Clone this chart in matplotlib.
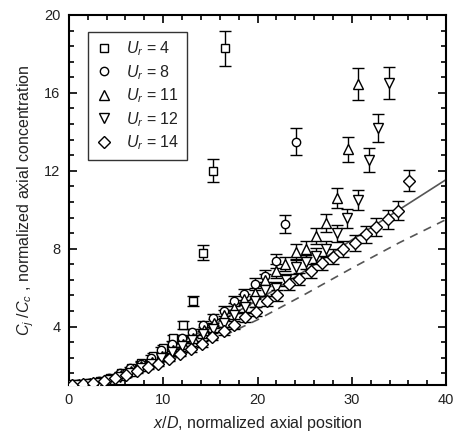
import numpy as np
import matplotlib
matplotlib.use("Agg")
import matplotlib.pyplot as plt
from matplotlib.ticker import MultipleLocator

plt.rcParams['font.family'] = ['Liberation Sans', 'DejaVu Sans']
plt.rcParams['mathtext.fontset'] = 'custom'
plt.rcParams['mathtext.rm'] = 'Liberation Sans'
plt.rcParams['mathtext.it'] = 'Liberation Sans:italic'

###########################
# data
###########################
# Ur = 4 (squares)
x_u4 = [0.0, 1.1, 2.2, 3.3, 4.4, 5.5, 6.6, 7.7, 8.9, 10.0, 11.0, 12.1, 13.2, 14.2, 15.3, 16.55]
y_u4 = [1.0, 1.05, 1.1, 1.2, 1.35, 1.6, 1.85, 2.15, 2.5, 2.9, 3.4, 4.1, 5.3, 7.8, 12.0, 18.3]
e_u4 = [0.05, 0.05, 0.05, 0.06, 0.07, 0.08, 0.09, 0.1, 0.12, 0.14, 0.17, 0.2, 0.26, 0.4, 0.6, 0.9]

# Ur = 8 (circles)
x_u8 = [0.0, 1.0, 2.1, 3.2, 4.3, 5.4, 6.5, 7.6, 8.7, 9.8, 10.9, 12.0, 13.1, 14.2, 15.3, 16.4, 17.5,
        18.6, 19.7, 20.8, 22.0, 22.9, 24.05]
y_u8 = [1.0, 1.05, 1.1, 1.2, 1.35, 1.6, 1.85, 2.1, 2.4, 2.8, 3.1, 3.4, 3.7, 4.08, 4.42, 4.8, 5.3,
        5.67, 6.17, 6.6, 7.37, 9.25, 13.5]
e_u8 = [0.05, 0.05, 0.05, 0.06, 0.07, 0.08, 0.09, 0.1, 0.12, 0.14, 0.15, 0.17, 0.18, 0.2, 0.22, 0.24, 0.26,
        0.28, 0.3, 0.33, 0.37, 0.46, 0.68]

# Ur = 11 (up triangles)
x_u11 = [0.0, 1.1, 2.2, 3.3, 4.4, 5.5, 6.6, 7.7, 8.8, 9.9, 11.0, 12.1, 13.2, 14.3, 15.4, 16.4, 17.5,
         18.6, 19.7, 20.8, 22.0, 22.95, 24.1, 25.1, 26.2, 27.3, 28.4, 29.6, 30.6]
y_u11 = [1.0, 1.03, 1.08, 1.15, 1.3, 1.5, 1.7, 1.95, 2.2, 2.5, 2.8, 3.1, 3.4, 3.8, 4.2, 4.6, 4.94,
         5.4, 5.7, 6.4, 6.85, 7.2, 7.85, 7.97, 8.65, 9.33, 10.6, 13.1, 16.45]
e_u11 = [0.05, 0.05, 0.05, 0.06, 0.07, 0.08, 0.09, 0.1, 0.11, 0.13, 0.14, 0.16, 0.17, 0.19, 0.21, 0.23, 0.25,
         0.27, 0.29, 0.32, 0.34, 0.36, 0.39, 0.4, 0.43, 0.47, 0.53, 0.65, 0.82]

# Ur = 12 (down triangles)
x_u12 = [0.0, 1.0, 2.1, 3.2, 4.3, 5.4, 6.5, 7.6, 8.7, 9.8, 10.9, 12.0, 13.1, 14.2, 15.3, 16.4, 17.5,
         18.7, 19.7, 20.8, 22.0, 23.0, 24.1, 25.1, 26.2, 27.3, 28.4, 29.5, 30.6, 31.8, 32.8, 33.9]
y_u12 = [1.0, 1.02, 1.05, 1.12, 1.25, 1.4, 1.6, 1.85, 2.1, 2.4, 2.7, 3.0, 3.3, 3.6, 3.9, 4.2, 4.6,
         5.0, 5.3, 5.88, 5.97, 6.4, 7.07, 7.33, 7.63, 7.97, 8.8, 9.56, 10.5, 12.55, 14.2, 16.5]
e_u12 = [0.05, 0.05, 0.05, 0.06, 0.06, 0.07, 0.08, 0.09, 0.1, 0.12, 0.13, 0.15, 0.16, 0.18, 0.2, 0.21, 0.23,
         0.25, 0.27, 0.29, 0.3, 0.32, 0.35, 0.37, 0.38, 0.4, 0.44, 0.48, 0.52, 0.62, 0.7, 0.82]

# Ur = 14 (diamonds)
x_u14 = [0.3, 1.45, 2.6, 3.75, 4.9, 6.05, 7.2, 8.35, 9.5, 10.65, 11.8, 12.95, 14.1, 15.2, 16.4, 17.5,
         18.7, 19.8, 21.0, 22.1, 23.3, 24.4, 25.7, 26.8, 28.0, 29.1, 30.3, 31.5, 32.6, 33.8, 34.9, 36.1]
y_u14 = [1.0, 1.05, 1.1, 1.2, 1.35, 1.5, 1.7, 1.9, 2.1, 2.35, 2.6, 2.85, 3.1, 3.48, 3.77, 4.1,
         4.47, 4.76, 5.3, 5.6, 6.17, 6.44, 6.85, 7.25, 7.59, 7.97, 8.28, 8.74, 9.13, 9.5, 9.95, 11.5]
e_u14 = [0.05, 0.05, 0.05, 0.06, 0.07, 0.08, 0.09, 0.1, 0.1, 0.12, 0.13, 0.14, 0.16, 0.17, 0.19, 0.2,
         0.22, 0.24, 0.26, 0.28, 0.31, 0.32, 0.34, 0.36, 0.38, 0.4, 0.41, 0.44, 0.46, 0.48, 0.5, 0.56]

# model curves
x_fit = [0, 2.5, 5, 7.5, 10, 12.5, 15, 20, 25, 30, 35, 40]
y_solid = [1.0, 1.15, 1.5, 2.05, 2.7, 3.35, 4.0, 5.35, 6.85, 8.45, 10.0, 11.55]
y_dash = [1.0, 1.05, 1.25, 1.6, 2.1, 2.65, 3.2, 4.35, 5.65, 7.0, 8.3, 9.5]

series = [
    (x_u4, y_u4, e_u4, 's', 5.5, '4'),
    (x_u8, y_u8, e_u8, 'o', 6.0, '8'),
    (x_u11, y_u11, e_u11, '^', 6.5, '11'),
    (x_u12, y_u12, e_u12, 'v', 6.5, '12'),
    (x_u14, y_u14, e_u14, 'D', 6.0, '14'),
]

fig = plt.figure(figsize=(4.53, 4.40), dpi=100)
ax = fig.add_axes([0.152, 0.125, 0.833, 0.841])

ax.plot(x_fit, y_solid, '-', color='#555555', lw=1.2, zorder=1)
ax.plot(x_fit, y_dash, '--', color='#555555', lw=1.2, dashes=(5, 4), zorder=1)

for xs, ys, es, mk, ms, lab in series:
    ax.errorbar(xs, ys, yerr=es, fmt=mk, ms=ms, mfc='white', mec='black', mew=1.0,
                ecolor='black', elinewidth=1.0, capsize=4, capthick=1.0,
                label=r'$U_r$ = ' + lab, zorder=3)

ax.set_xlim(0, 40)
ax.set_ylim(1, 20)
ax.xaxis.set_major_locator(MultipleLocator(10))
ax.xaxis.set_minor_locator(MultipleLocator(2))
ax.set_yticks([4, 8, 12, 16, 20])
ax.yaxis.set_minor_locator(MultipleLocator(0.8))
ax.tick_params(which='both', direction='in', top=True, right=True, labelsize=10.5,
               width=1.2, labelcolor='#222222')
ax.tick_params(which='major', length=6, pad=6)
ax.tick_params(which='minor', length=3.5)
for sp in ax.spines.values():
    sp.set_linewidth(1.5)

ax.set_xlabel(r'$x/D$, normalized axial position', fontsize=11.5, labelpad=5, color='#222222')
ax.set_ylabel(r'$C_j$ /$C_c$ , normalized axial concentration', fontsize=11.5, labelpad=6,
              color='#222222')

handles, labels = ax.get_legend_handles_labels()
handles = [h[0] for h in handles]
leg = ax.legend(handles, labels, loc='upper left', bbox_to_anchor=(0.05, 0.955),
                fontsize=11.5, frameon=True, fancybox=False, edgecolor='black',
                handletextpad=0.9, borderpad=0.5, labelspacing=0.3, handlelength=1.0,
                borderaxespad=0.0)
leg.get_frame().set_linewidth(1.0)
for t in leg.get_texts():
    t.set_color('#222222')

fig.savefig('out.png', dpi=100)
